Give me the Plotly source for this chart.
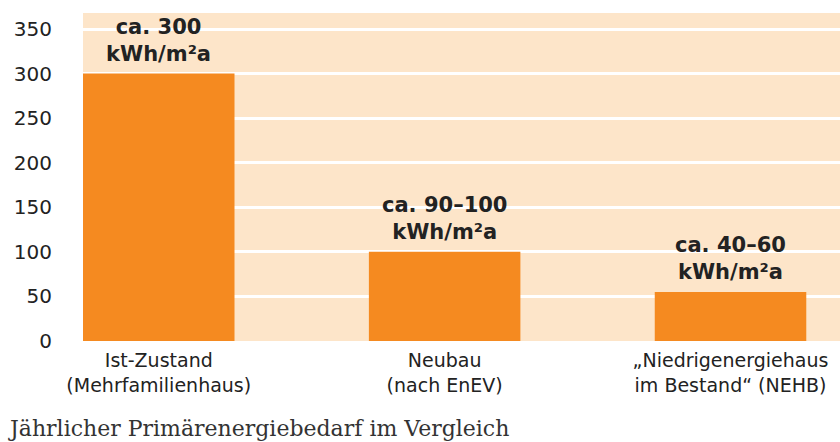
import plotly.graph_objs as go

categories = ["Ist-Zustand<br>(Mehrfamilienhaus)", "Neubau<br>(nach EnEV)",
              "„Niedrigenergiehaus<br>im Bestand“ (NEHB)"]
values = [300, 100, 55]
labels = ["ca. 300<br>kWh/m²a", "ca. 90–100<br>kWh/m²a", "ca. 40–60<br>kWh/m²a"]
yticks = [0, 50, 100, 150, 200, 250, 300, 350]
caption = "Jährlicher Primärenergiebedarf im Vergleich"

xpos = list(range(len(categories)))

fig = go.Figure()
fig.add_trace(go.Bar(x=xpos, y=values, width=0.53, marker=dict(color="#F58A20", line=dict(width=0)),
                     hoverinfo="skip"))

for xi, v, t in zip(xpos, values, labels):
    fig.add_annotation(x=xi, y=v, xref="x", yref="y", text=t, showarrow=False,
                       yanchor="bottom", yshift=6,
                       font=dict(family="DejaVu Sans", size=21, color="#222222", weight="bold"))

fig.add_annotation(x=0, y=0, xref="paper", yref="paper", xanchor="left", yanchor="top",
                   xshift=-77, yshift=-73, text=caption, showarrow=False,
                   font=dict(family="DejaVu Serif", size=22, color="#333333"))

fig.update_layout(
    width=840, height=442,
    margin=dict(l=83, r=0, t=13, b=101),
    plot_bgcolor="#FDE5C9", paper_bgcolor="white",
    showlegend=False,
    xaxis=dict(range=[-0.265, 2.383], tickvals=xpos, ticktext=categories, automargin=False,
               showgrid=False, zeroline=False, ticklabelstandoff=6,
               tickfont=dict(family="DejaVu Sans", size=19, color="#222222")),
    yaxis=dict(range=[0, 368], tickvals=yticks, showgrid=True, gridcolor="white", gridwidth=3,
               zeroline=False, ticklabelstandoff=30, automargin=False,
               tickfont=dict(family="DejaVu Sans", size=20, color="#222222")),
)

# the page body has a default 8px margin, drop it so the figure fills the window
fig.write_html("out.html", config=dict(displayModeBar=False),
               post_script="document.body.style.margin='0';")
